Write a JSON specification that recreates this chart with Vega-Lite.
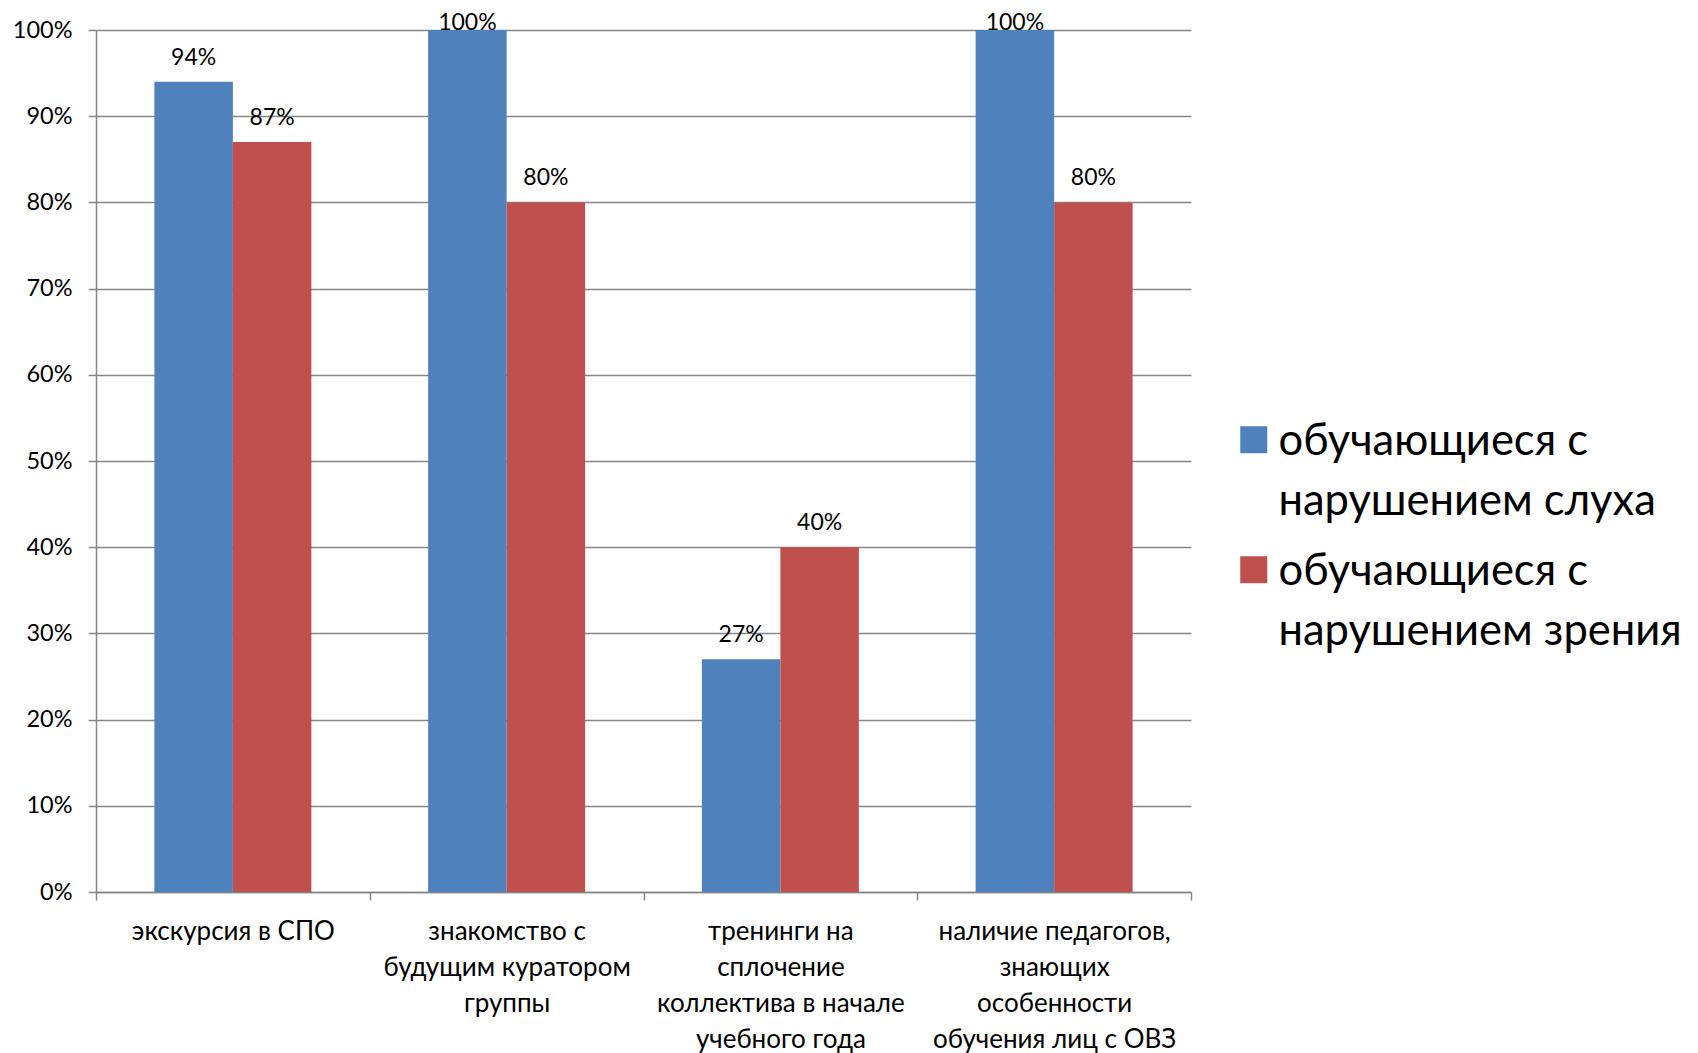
{
  "$schema": "https://vega.github.io/schema/vega-lite/v6.json",
  "width": 1095,
  "height": 862,
  "autosize": {"type": "none"},
  "padding": {"left": 96, "top": 30, "right": 507, "bottom": 161},
  "background": "white",
  "config": {
    "font": "Lato",
    "view": {"stroke": null}
  },
  "data": {
    "values": [
      {"category": "экскурсия в СПО", "group": "обучающиеся с\nнарушением слуха", "value": 0.94},
      {"category": "экскурсия в СПО", "group": "обучающиеся с\nнарушением зрения", "value": 0.87},
      {"category": "знакомство с\nбудущим куратором\nгруппы", "group": "обучающиеся с\nнарушением слуха", "value": 1.0},
      {"category": "знакомство с\nбудущим куратором\nгруппы", "group": "обучающиеся с\nнарушением зрения", "value": 0.80},
      {"category": "тренинги на\nсплочение\nколлектива в начале\nучебного года", "group": "обучающиеся с\nнарушением слуха", "value": 0.27},
      {"category": "тренинги на\nсплочение\nколлектива в начале\nучебного года", "group": "обучающиеся с\nнарушением зрения", "value": 0.40},
      {"category": "наличие педагогов,\nзнающих\nособенности\nобучения лиц с ОВЗ", "group": "обучающиеся с\nнарушением слуха", "value": 1.0},
      {"category": "наличие педагогов,\nзнающих\nособенности\nобучения лиц с ОВЗ", "group": "обучающиеся с\nнарушением зрения", "value": 0.80}
    ]
  },
  "encoding": {
    "x": {
      "field": "category",
      "type": "nominal",
      "sort": null,
      "scale": {"paddingInner": 0, "paddingOuter": 0},
      "axis": {
        "title": null,
        "labelAngle": 0,
        "labelExpr": "split(datum.label, '\\n')",
        "labelFontSize": 26,
        "labelColor": "#000000",
        "labelLineHeight": 36,
        "labelPadding": 18,
        "labelBaseline": "top",
        "labelLimit": 400,
        "tickBand": "extent",
        "tickSize": 8,
        "tickColor": "#868686",
        "tickWidth": 1.5,
        "domainColor": "#868686",
        "domainWidth": 1.5,
        "grid": false
      }
    },
    "xOffset": {
      "field": "group",
      "type": "nominal",
      "sort": null,
      "scale": {"paddingInner": 0, "paddingOuter": 0.744}
    },
    "y": {
      "field": "value",
      "type": "quantitative",
      "scale": {"domain": [0, 1], "nice": false},
      "axis": {
        "title": null,
        "format": ".0%",
        "values": [0, 0.1, 0.2, 0.3, 0.4, 0.5, 0.6, 0.7, 0.8, 0.9, 1.0],
        "labelFontSize": 23.5,
        "labelColor": "#000000",
        "labelPadding": 16,
        "tickSize": 8,
        "tickColor": "#868686",
        "tickWidth": 1.5,
        "domainColor": "#868686",
        "domainWidth": 1.5,
        "gridColor": "#868686",
        "gridWidth": 1.5
      }
    }
  },
  "layer": [
    {
      "mark": {"type": "bar"},
      "encoding": {
        "color": {
          "field": "group",
          "type": "nominal",
          "sort": null,
          "scale": {"range": ["#4F81BD", "#C0504D"]},
          "legend": {
            "title": null,
            "orient": "none",
            "legendX": 1136,
            "legendY": 388,
            "padding": 0,
            "symbolType": "square",
            "symbolSize": 729,
            "symbolStrokeWidth": 0,
            "labelFontSize": 43.5,
            "labelColor": "#000000",
            "labelOffset": 3,
            "labelLimit": 700,
            "labelExpr": "split(datum.label, '\\n')",
            "labelBaseline": "alphabetic",
            "rowPadding": 24,
            "encode": {
              "labels": {"update": {"lineHeight": {"value": 60}, "dy": {"value": 15}}}
            }
          }
        }
      }
    },
    {
      "mark": {"type": "text", "baseline": "alphabetic", "dy": {"expr": "datum.value > 0.97 ? 0 : -17"}, "fontSize": 23, "color": "#000000"},
      "encoding": {
        "text": {"field": "value", "type": "quantitative", "format": ".0%"}
      }
    }
  ]
}
